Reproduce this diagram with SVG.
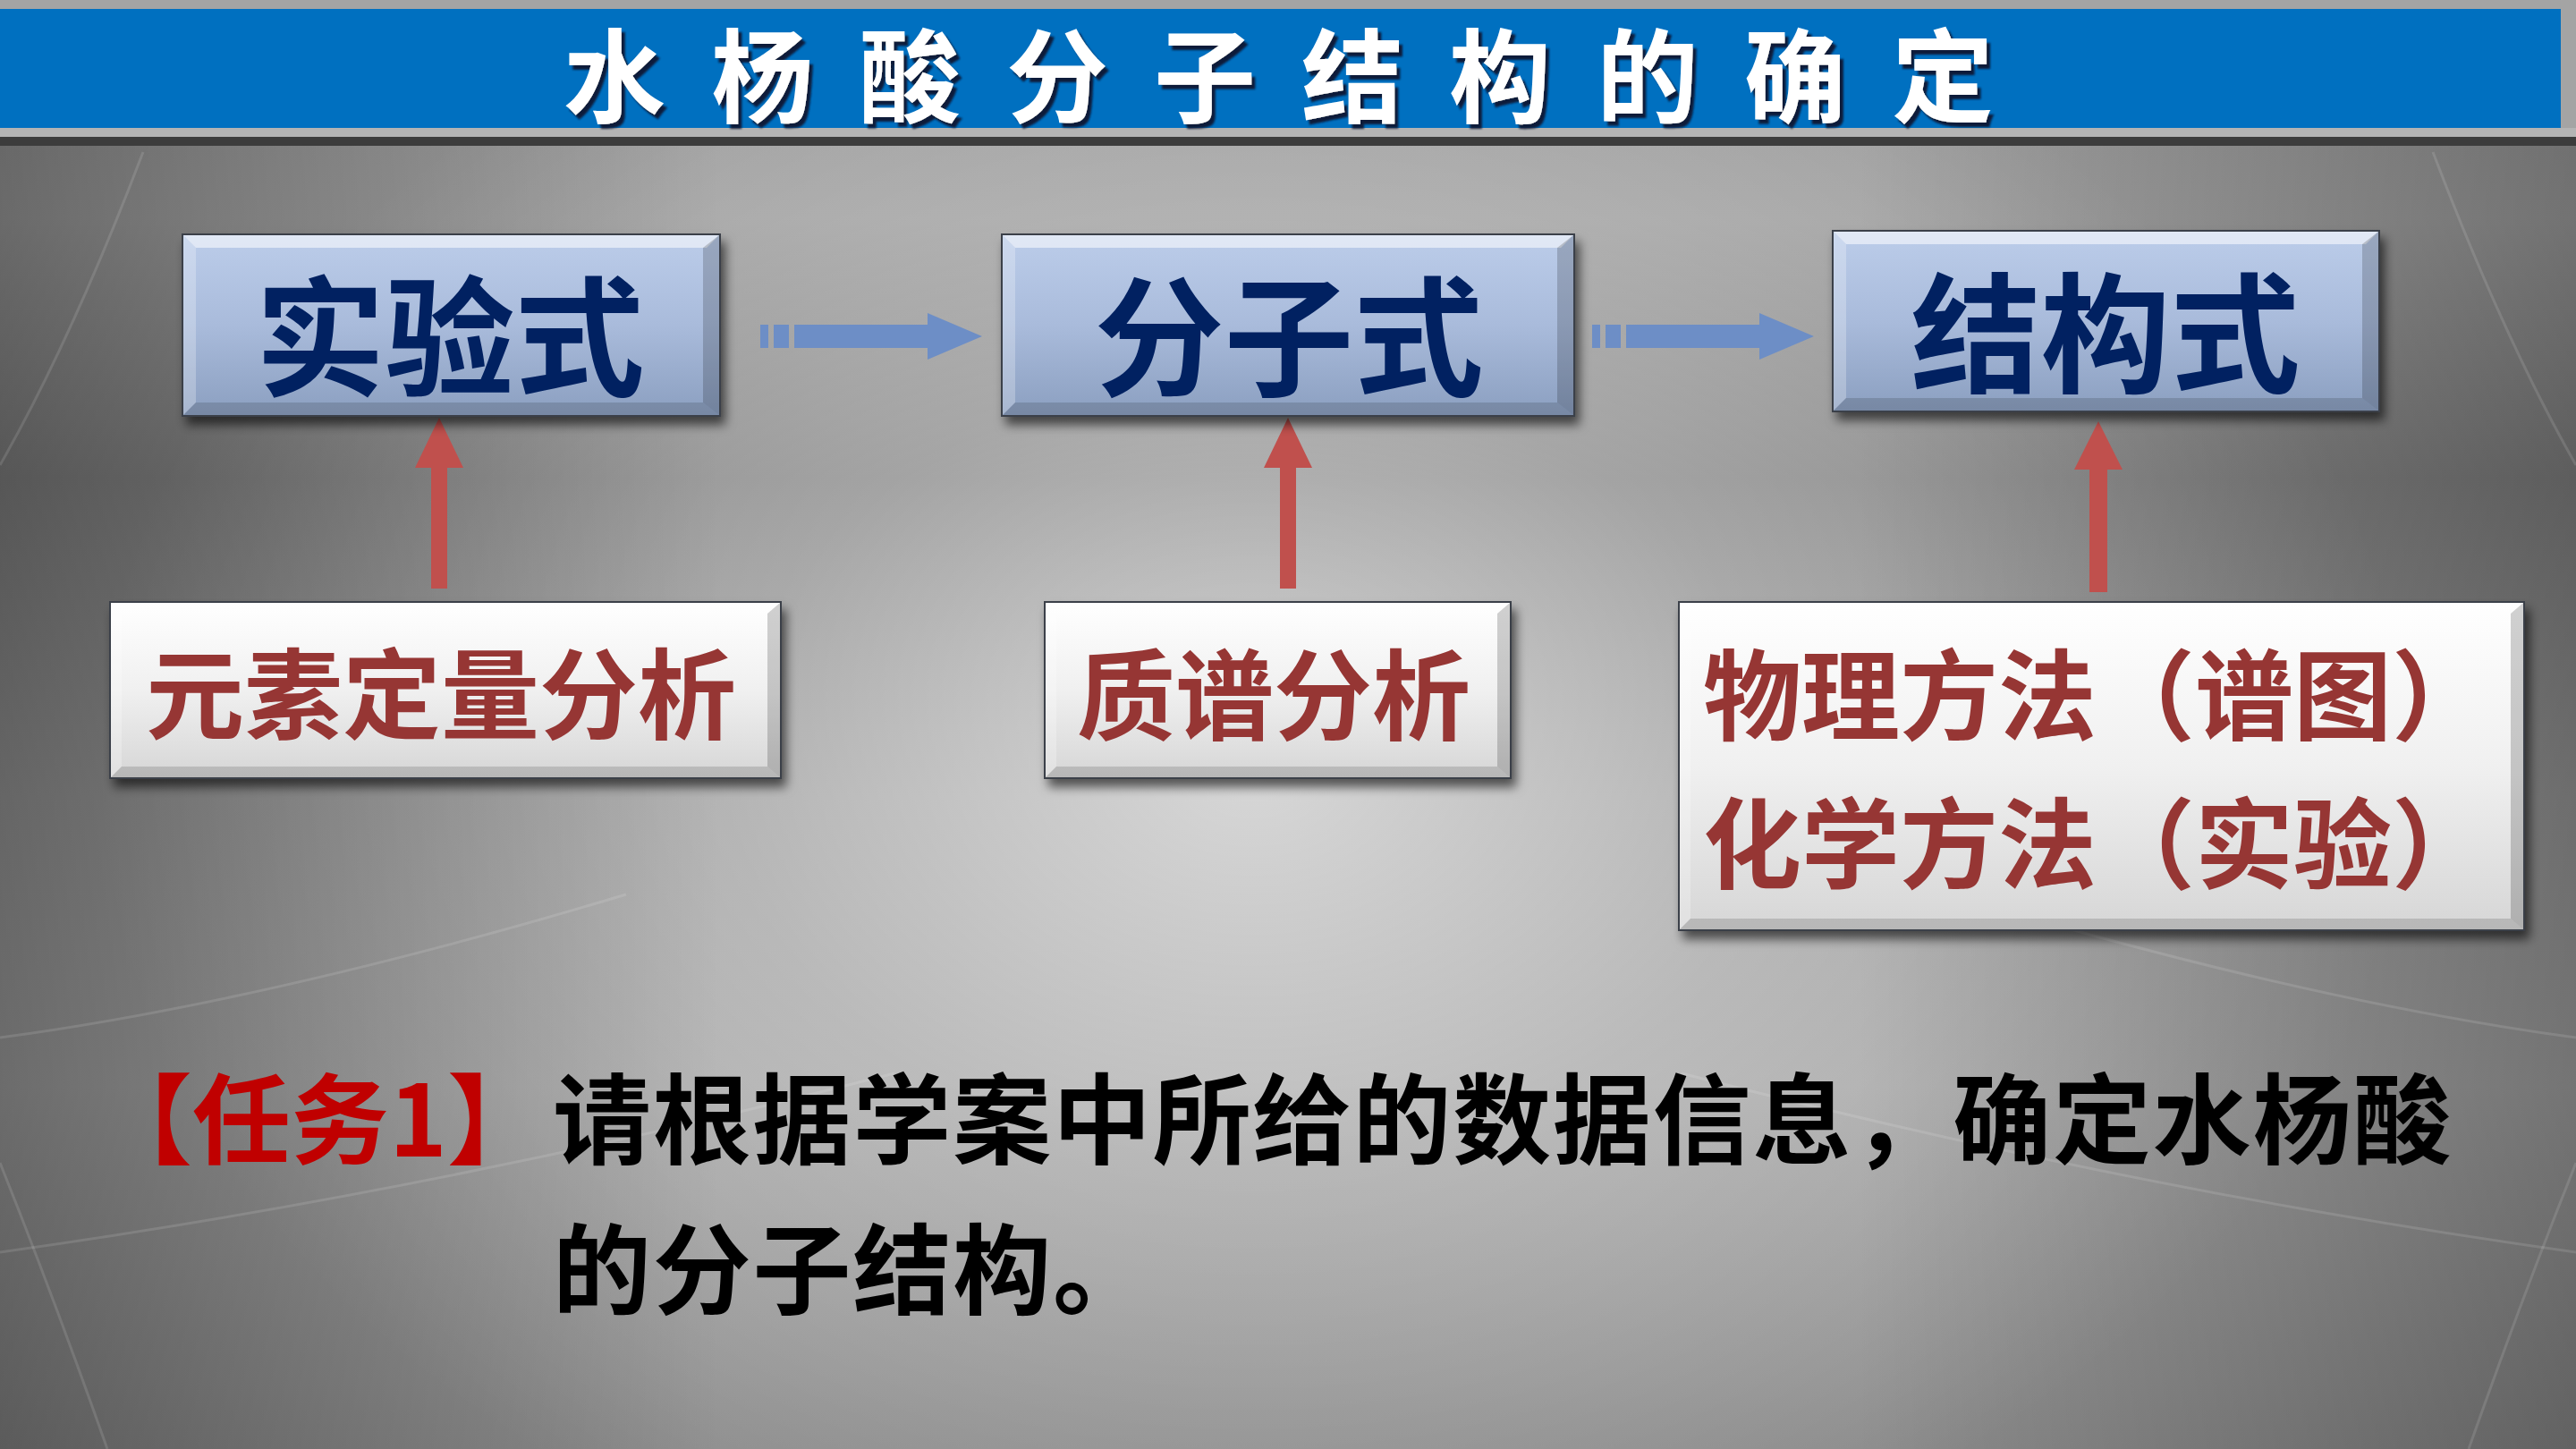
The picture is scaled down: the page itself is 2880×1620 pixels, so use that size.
<svg xmlns="http://www.w3.org/2000/svg" width="2880" height="1620" viewBox="0 0 2880 1620">
<defs>
  <linearGradient id="bgV" x1="0" y1="0" x2="0" y2="1">
    <stop offset="0" stop-color="#9a9a9a"/>
    <stop offset="0.15" stop-color="#a3a3a3"/>
    <stop offset="0.33" stop-color="#858585"/>
    <stop offset="0.55" stop-color="#9c9c9c"/>
    <stop offset="0.75" stop-color="#a6a6a6"/>
    <stop offset="1" stop-color="#8c8c8c"/>
  </linearGradient>
  <radialGradient id="bgGlow" cx="1400" cy="860" r="1300" gradientUnits="userSpaceOnUse" gradientTransform="translate(1400 860) scale(1 0.75) translate(-1400 -860)">
    <stop offset="0" stop-color="#ffffff" stop-opacity="0.6"/>
    <stop offset="0.45" stop-color="#ffffff" stop-opacity="0.25"/>
    <stop offset="1" stop-color="#ffffff" stop-opacity="0"/>
  </radialGradient>
  <linearGradient id="bgEdge" x1="0" y1="0" x2="1" y2="0">
    <stop offset="0" stop-color="#000" stop-opacity="0.35"/>
    <stop offset="0.28" stop-color="#000" stop-opacity="0"/>
    <stop offset="0.72" stop-color="#000" stop-opacity="0"/>
    <stop offset="1" stop-color="#000" stop-opacity="0.3"/>
  </linearGradient>
  <linearGradient id="blueFill" x1="0" y1="0" x2="0" y2="1">
    <stop offset="0" stop-color="#bccdea"/>
    <stop offset="0.5" stop-color="#a9bbdb"/>
    <stop offset="1" stop-color="#8b9fc0"/>
  </linearGradient>
  <linearGradient id="whiteFill" x1="0" y1="0" x2="0" y2="1">
    <stop offset="0" stop-color="#ffffff"/>
    <stop offset="0.5" stop-color="#f0f0f0"/>
    <stop offset="1" stop-color="#d6d6d6"/>
  </linearGradient>
  <filter id="shadow" x="-10%" y="-10%" width="125%" height="135%">
    <feDropShadow dx="5" dy="9" stdDeviation="6" flood-color="#000" flood-opacity="0.6"/>
  </filter>
  <filter id="titleShadow" x="-5%" y="-20%" width="110%" height="150%">
    <feDropShadow dx="4" dy="5" stdDeviation="1.2" flood-color="#0b1230" flood-opacity="0.95"/>
  </filter>
  <style>
    .box { stroke: #3b3f48; stroke-width: 2; filter: url(#shadow); }
    .blue { fill: url(#blueFill); }
    .white { fill: url(#whiteFill); }
    .hiTop { fill: #ffffff; opacity: 0.55; }
    .hiLeft { fill: #ffffff; opacity: 0.25; }
    .shRight { fill: #000000; opacity: 0.18; }
    .shBot { fill: #000000; opacity: 0.14; }
    .cjk { font-family: "Noto Sans CJK SC", "Noto Sans CJK JP", sans-serif; font-weight: 700; }
    .top-t { font-size: 145px; fill: #012161; text-anchor: middle; }
    .bot-t { font-size: 110px; fill: #963634; }
    .bluearrow { fill: #6d8ec6; }
    .redarrow { fill: #c0504d; }
  </style>
</defs>

<!-- background -->
<rect x="0" y="0" width="2880" height="1620" fill="url(#bgV)"/>
<rect x="0" y="0" width="2880" height="1620" fill="url(#bgGlow)"/>
<rect x="0" y="0" width="2880" height="1620" fill="url(#bgEdge)"/>
<g fill="none" stroke="#ffffff" stroke-opacity="0.12" stroke-width="3">
  <path d="M 0 1160 Q 300 1120 700 1000"/>
  <path d="M 0 1400 Q 500 1330 1000 1200"/>
  <path d="M 2880 1160 Q 2580 1120 2180 1000"/>
  <path d="M 2880 1400 Q 2380 1330 1880 1200"/>
  <path d="M 120 1620 Q 60 1450 0 1300"/>
  <path d="M 2760 1620 Q 2820 1450 2880 1300"/>
  <path d="M 2720 170 Q 2800 380 2880 520"/>
  <path d="M 160 170 Q 80 380 0 520"/>
</g>

<!-- title bar -->
<g id="title">
  <rect x="0" y="0" width="2880" height="163" fill="#a4a4a4"/>
  <rect x="0" y="143" width="2880" height="10" fill="#b4b4b4"/>
  <rect x="0" y="153" width="2880" height="10" fill="#3c3c3c"/>
  <rect x="0" y="10" width="2863" height="133" fill="#0070c0"/>
  <text x="630" y="128" class="cjk" font-size="114" letter-spacing="51" fill="#ffffff" filter="url(#titleShadow)">水杨酸分子结构的确定</text>
</g>

<!-- connectors -->
<g id="connectors">
  <path class="bluearrow" d="M 850 363 h 9 v 26 h -9 z M 865 363 h 17 v 26 h -17 z M 888 363 H 1037 V 350 L 1098 376 L 1037 402 V 389 H 888 z"/>
  <path class="bluearrow" d="M 1780 363 h 9 v 26 h -9 z M 1795 363 h 17 v 26 h -17 z M 1818 363 H 1967 V 350 L 2028 376 L 1967 402 V 389 H 1818 z"/>
  <path class="redarrow" d="M 491 467 L 518 523 H 500 V 658 H 482 V 523 H 464 z"/>
  <path class="redarrow" d="M 1440 467 L 1467 523 H 1449 V 658 H 1431 V 523 H 1413 z"/>
  <path class="redarrow" d="M 2346 471 L 2373 525 H 2356 V 662 H 2336 V 525 H 2319 z"/>
</g>

<!-- top nodes -->
<g id="node-shiyanshi">
  <rect class="box blue" x="204" y="262" width="601" height="203"/>
  <polygon class="hiTop" points="205,263 804,263 790,277 219,277"/>
  <polygon class="hiLeft" points="205,263 219,277 219,450 205,464"/>
  <polygon class="shRight" points="804,263 804,464 786,450 786,277"/>
  <polygon class="shBot" points="205,464 804,464 786,450 219,450"/>
  <text x="503" y="432" class="cjk top-t">实验式</text>
</g>
<g id="node-fenzishi">
  <rect class="box blue" x="1120" y="262" width="640" height="203"/>
  <polygon class="hiTop" points="1121,263 1759,263 1745,277 1135,277"/>
  <polygon class="hiLeft" points="1121,263 1135,277 1135,450 1121,464"/>
  <polygon class="shRight" points="1759,263 1759,464 1741,450 1741,277"/>
  <polygon class="shBot" points="1121,464 1759,464 1741,450 1135,450"/>
  <text x="1441" y="432" class="cjk top-t">分子式</text>
</g>
<g id="node-jiegoushi">
  <rect class="box blue" x="2049" y="258" width="611" height="202"/>
  <polygon class="hiTop" points="2050,259 2659,259 2645,273 2064,273"/>
  <polygon class="hiLeft" points="2050,259 2064,273 2064,445 2050,459"/>
  <polygon class="shRight" points="2659,259 2659,459 2641,445 2641,273"/>
  <polygon class="shBot" points="2050,459 2659,459 2641,445 2064,445"/>
  <text x="2354" y="428" class="cjk top-t">结构式</text>
</g>

<!-- bottom nodes -->
<g id="node-yuansu">
  <rect class="box white" x="123" y="673" width="750" height="197"/>
  <polygon class="hiLeft" points="124,674 136,686 136,857 124,869"/>
  <polygon class="shRight" points="872,674 872,869 858,857 858,686"/>
  <polygon class="shBot" points="124,869 872,869 858,857 136,857"/>
  <text x="493" y="818" class="cjk bot-t" text-anchor="middle">元素定量分析</text>
</g>
<g id="node-zhipu">
  <rect class="box white" x="1168" y="673" width="521" height="197"/>
  <polygon class="hiLeft" points="1169,674 1181,686 1181,857 1169,869"/>
  <polygon class="shRight" points="1688,674 1688,869 1674,857 1674,686"/>
  <polygon class="shBot" points="1169,869 1688,869 1674,857 1181,857"/>
  <text x="1424" y="819" class="cjk bot-t" text-anchor="middle">质谱分析</text>
</g>
<g id="node-fangfa">
  <rect class="box white" x="1877" y="673" width="945" height="367"/>
  <polygon class="hiLeft" points="1878,674 1890,686 1890,1027 1878,1039"/>
  <polygon class="shRight" points="2821,674 2821,1039 2807,1027 2807,686"/>
  <polygon class="shBot" points="1878,1039 2821,1039 2807,1027 1890,1027"/>
  <text x="1904" y="819" class="cjk bot-t">物理方法（谱图）</text>
  <text x="1904" y="985" class="cjk bot-t">化学方法（实验）</text>
</g>

<!-- task text -->
<g id="task">
  <text x="105" y="1293" class="cjk" font-size="110" fill="#c00000">【任务1】</text>
  <text x="618" y="1293" class="cjk" font-size="110" letter-spacing="1.8" fill="#000000">请根据学案中所给的数据信息，确定水杨酸</text>
  <text x="618" y="1461" class="cjk" font-size="110" letter-spacing="1.8" fill="#000000">的分子结构。</text>
</g>
</svg>
